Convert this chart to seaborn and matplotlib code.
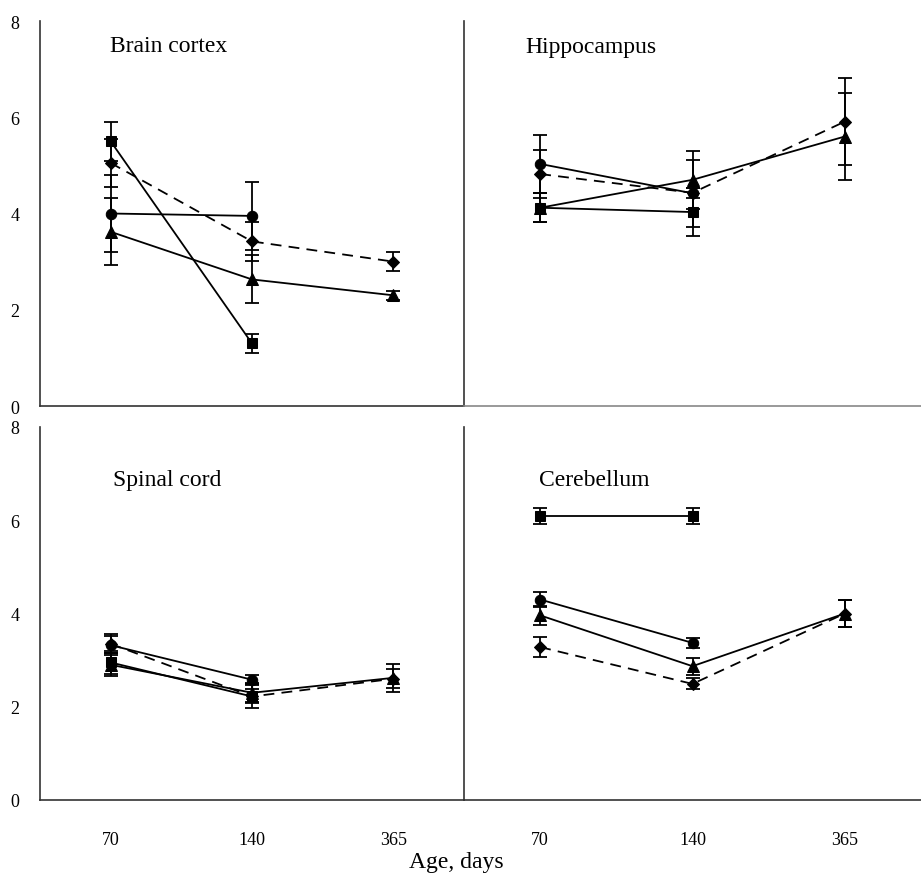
import numpy as np
import pandas as pd
import matplotlib
matplotlib.use("Agg")
import matplotlib.pyplot as plt
import seaborn as sns

sns.set_theme(style="white")
plt.rcParams['font.family'] = ['Liberation Serif', 'DejaVu Serif']
plt.rcParams['text.color'] = 'black'
plt.rcParams['xtick.labelcolor'] = 'black'
plt.rcParams['ytick.labelcolor'] = 'black'

ages = ["70", "140", "365"]
panels = ["Brain cortex", "Hippocampus", "Spinal cord", "Cerebellum"]
series = ["circle", "square", "triangle", "diamond"]
nan = np.nan

# mean values per panel, per series, per age (70, 140, 365)
cortex_circle = [4.0, 3.95, nan]
cortex_square = [5.5, 1.3, nan]
cortex_triangle = [3.62, 2.63, 2.3]
cortex_diamond = [5.05, 3.42, 3.0]
cortex_circle_err = [0.8, 0.7, nan]
cortex_square_err = [0.4, 0.2, nan]
cortex_triangle_err = [0.7, 0.5, 0.1]
cortex_diamond_err = [0.5, 0.4, 0.2]

hippo_circle = [5.03, 4.42, nan]
hippo_square = [4.12, 4.03, nan]
hippo_triangle = [4.12, 4.7, 5.6]
hippo_diamond = [4.82, 4.43, 5.91]
hippo_circle_err = [0.6, 0.7, nan]
hippo_square_err = [0.3, 0.5, nan]
hippo_triangle_err = [0.3, 0.6, 0.9]
hippo_diamond_err = [0.5, 0.1, 0.9]

spinal_circle = [3.32, 2.58, nan]
spinal_square = [2.95, 2.22, nan]
spinal_triangle = [2.9, 2.3, 2.62]
spinal_diamond = [3.35, 2.22, 2.6]
spinal_circle_err = [0.2, 0.1, nan]
spinal_square_err = [0.25, 0.15, nan]
spinal_triangle_err = [0.25, 0.2, 0.3]
spinal_diamond_err = [0.2, 0.25, 0.2]

cereb_circle = [4.3, 3.37, nan]
cereb_square = [6.1, 6.1, nan]
cereb_triangle = [3.96, 2.87, 4.0]
cereb_diamond = [3.28, 2.49, 4.0]
cereb_circle_err = [0.17, 0.1, nan]
cereb_square_err = [0.17, 0.17, nan]
cereb_triangle_err = [0.2, 0.18, 0.3]
cereb_diamond_err = [0.22, 0.12, 0.3]

values = {
    "Brain cortex": (cortex_circle, cortex_square, cortex_triangle, cortex_diamond),
    "Hippocampus": (hippo_circle, hippo_square, hippo_triangle, hippo_diamond),
    "Spinal cord": (spinal_circle, spinal_square, spinal_triangle, spinal_diamond),
    "Cerebellum": (cereb_circle, cereb_square, cereb_triangle, cereb_diamond),
}
errors = {
    "Brain cortex": (cortex_circle_err, cortex_square_err, cortex_triangle_err, cortex_diamond_err),
    "Hippocampus": (hippo_circle_err, hippo_square_err, hippo_triangle_err, hippo_diamond_err),
    "Spinal cord": (spinal_circle_err, spinal_square_err, spinal_triangle_err, spinal_diamond_err),
    "Cerebellum": (cereb_circle_err, cereb_square_err, cereb_triangle_err, cereb_diamond_err),
}

rows = []
for p in panels:
    for s, vals, errs in zip(series, values[p], errors[p]):
        for i, a in enumerate(ages):
            rows.append(dict(panel=p, series=s, age=a, pos=i, value=vals[i], err=errs[i]))
df = pd.DataFrame(rows).dropna()

style = {
    "circle": dict(marker="o", ms=7.5, ls="-"),
    "square": dict(marker="s", ms=7.5, ls="-"),
    "triangle": dict(marker="^", ms=8.5, ls="-"),
    "diamond": dict(marker="D", ms=6.5, ls=(0, (6, 4))),
}
draw_order = ["triangle", "circle", "square", "diamond"]

W, H = 921, 878
fig = plt.figure(figsize=(W / 100, H / 100), dpi=100)
boxes = {
    "Brain cortex": (40, 22, 464, 407),
    "Hippocampus": (464, 22, 921, 407),
    "Spinal cord": (40, 428, 464, 801),
    "Cerebellum": (464, 428, 921, 801),
}
title_pos = {
    "Brain cortex": (110, 47),
    "Hippocampus": (525, 47),
    "Spinal cord": (113, 481),
    "Cerebellum": (539, 481),
}

for p in panels:
    x0, y0, x1, y1 = boxes[p]
    ax = fig.add_axes([x0 / W, (H - y1) / H, (x1 - x0) / W, (y1 - y0) / H])
    ax.set_facecolor("none")
    sub = df[df.panel == p]
    for s in draw_order:
        d = sub[sub.series == s]
        st = style[s]
        sns.lineplot(data=d, x="pos", y="value", ax=ax, color="black",
                     marker=st["marker"], markersize=st["ms"], linestyle=st["ls"],
                     linewidth=1.3, markeredgecolor="black", markerfacecolor="black",
                     errorbar=None, sort=False, legend=False)
        ax.errorbar(d["pos"], d["value"], yerr=d["err"], fmt="none", ecolor="black",
                    elinewidth=1.3, capsize=5, capthick=1.3)
    ax.set_xlim(-0.5, 2.5)
    ax.set_ylim(0, 8)
    ax.set_xlabel("")
    ax.set_ylabel("")
    for side in ["top", "right"]:
        ax.spines[side].set_visible(False)
    ax.spines["left"].set_color("#333333")
    ax.spines["left"].set_linewidth(1.2)
    ax.spines["bottom"].set_linewidth(1.2)
    ax.spines["bottom"].set_color("#333333" if p != "Hippocampus" else "#888888")
    ax.set_yticks([0, 2, 4, 6, 8])
    ax.tick_params(axis="y", direction="out", length=6, width=1, color="#333333",
                   labelsize=13, pad=9)
    left = p in ("Brain cortex", "Spinal cord")
    if not left:
        ax.set_yticklabels([])
    bottom = p in ("Spinal cord", "Cerebellum")
    ax.set_xticks([-0.5, 0.5, 1.5, 2.5])
    ax.set_xticklabels([])
    ax.set_xticks([0, 1, 2], minor=True)
    if bottom:
        ax.set_xticklabels(ages, minor=True)
        ax.tick_params(axis="x", which="major", direction="out", length=6, width=1, color="#333333")
        ax.tick_params(axis="x", which="minor", length=0, labelsize=13, pad=22)
    else:
        ax.tick_params(axis="x", which="major", direction="out", length=3, width=1, color="#555555")
        ax.tick_params(axis="x", which="minor", length=0)
    tx, ty = title_pos[p]
    fig.text(tx / W, (H - ty) / H, p, ha="left", va="center", fontsize=17)

fig.text(456 / W, (H - 863) / H, "Age, days", ha="center", va="center", fontsize=17)

fig.savefig("out.png", dpi=100)
